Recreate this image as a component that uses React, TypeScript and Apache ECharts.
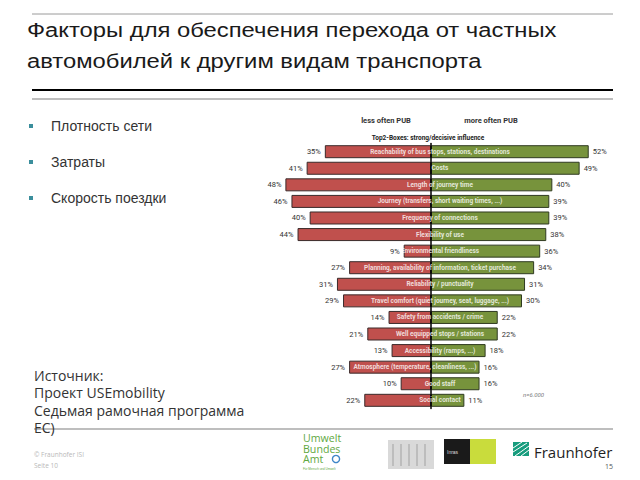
import React, { useEffect, useRef } from "react";
import * as echarts from "echarts";

const categories = [
  "Reachability of bus stops, stations, destinations",
  "Costs",
  "Length of journey time",
  "Journey (transfers, short waiting times, ...)",
  "Frequency of connections",
  "Flexibility of use",
  "Environmental friendliness",
  "Planning, availability of information, ticket purchase",
  "Reliability / punctuality",
  "Travel comfort (quiet journey, seat, luggage, ...)",
  "Safety from accidents / crime",
  "Well equipped stops / stations",
  "Accessibility (ramps, ...)",
  "Atmosphere (temperature, cleanliness, ...)",
  "Good staff",
  "Social contact",
];
const lessOftenPUB = [35, 41, 48, 46, 40, 44, 9, 27, 31, 29, 14, 21, 13, 27, 10, 22];
const moreOftenPUB = [52, 49, 40, 39, 39, 38, 36, 34, 31, 30, 22, 22, 18, 16, 16, 11];

const titleLines = [
  "Факторы для обеспечения перехода от частных",
  "автомобилей к другим видам транспорта",
];
const bullets = ["Плотность сети", "Затраты", "Скорость поездки"];
const sourceLines = ["Источник:", "Проект USEmobility", "Седьмая рамочная программа", "ЕС)"];
const umweltLines = ["Umwelt", "Bundes", "Amt"];

const SANS = "'Liberation Sans', Arial, sans-serif";
const OPEN = "'Open Sans', 'Noto Sans', sans-serif";
const SMALL = "Roboto, 'Liberation Sans', sans-serif";

// grid geometry (layout constants)
const GRID_LEFT = 249;
const GRID_WIDTH = 364;
const X_MIN = -60;
const X_MAX = 60;
const CAT_FONT = 6.5;
const CAT_SHIFT = 9;

function measure(text: string, font: string): number {
  const c = document.createElement("canvas").getContext("2d");
  if (!c) return text.length * 3;
  c.font = font;
  return c.measureText(text).width;
}

export default function App() {
  const ref = useRef<HTMLDivElement>(null);
  useEffect(() => {
    if (!ref.current) return;
    const chart = echarts.init(ref.current, undefined, { renderer: "svg" });

    const graphic: any[] = [];
    const hline = (y: number, x1: number, x2: number, color: string, w: number) =>
      graphic.push({ type: "line", shape: { x1, y1: y, x2, y2: y }, style: { stroke: color, lineWidth: w }, silent: true });
    const txt = (x: number, y: number, text: string, o: any, extra: any = {}) =>
      graphic.push({ type: "text", x, y, silent: true, ...extra, style: { text, verticalAlign: "middle", align: "left", ...o } });

    hline(14, 32, 613, "#9a9a9a", 1);
    hline(90, 32, 613, "#000", 2.2);
    hline(99, 32, 613, "#a8a8a8", 1.5);
    hline(429, 34, 613, "#a8a8a8", 1.5);

    titleLines.forEach((t, i) =>
      txt(27, 30 + i * 31, t, { fontSize: 20, fontFamily: SANS, fill: "#1a1a1a" }, { scaleX: 1.19 })
    );
    bullets.forEach((t, i) => {
      graphic.push({ type: "rect", silent: true, shape: { x: 29, y: 124 + i * 36, width: 4, height: 4 }, style: { fill: "#3b8e9c" } });
      txt(51, 126 + i * 36, t, { fontSize: 14, fontFamily: SANS, fill: "#333" });
    });
    sourceLines.forEach((t, i) =>
      txt(34, 375 + i * 17.5, t, { fontSize: 14, fontFamily: OPEN, fill: "#333" })
    );
    txt(34, 454, "© Fraunhofer ISI", { fontSize: 6.5, fontFamily: OPEN, fill: "#b8b8b8" });
    txt(34, 465, "Seite 10", { fontSize: 6.5, fontFamily: OPEN, fill: "#b8b8b8" });

    // chart headers
    txt(386, 120, "less often PUB", { fontSize: 7.5, fontWeight: "bold", fontFamily: SMALL, fill: "#333", align: "center" });
    txt(491, 120, "more often PUB", { fontSize: 7.5, fontWeight: "bold", fontFamily: SMALL, fill: "#333", align: "center" });
    txt(428, 138, "Top2-Boxes: strong/decisive influence", { fontSize: 6.5, fontWeight: "bold", fontFamily: SMALL, fill: "#222", align: "center" });
    txt(523, 394, "n=6.000", { fontSize: 6, fontStyle: "italic", fontFamily: SMALL, fill: "#777" });

    // Umwelt Bundes Amt logo
    umweltLines.forEach((t, i) =>
      txt(303, 438 + i * 10.7, t, { fontSize: 9.5, fontFamily: OPEN, fill: "#5fa83f" }, { scaleX: 1.12, scaleY: 1.08 })
    );
    graphic.push({ type: "circle", silent: true, shape: { cx: 336, cy: 459, r: 3.6 }, style: { fill: "#fff", stroke: "#3f86c8", lineWidth: 1.4 } });
    txt(303, 469, "Für Mensch und Umwelt", { fontSize: 3, fontFamily: SANS, fill: "#5fa83f" });

    // gray image block
    graphic.push({ type: "rect", silent: true, shape: { x: 388, y: 440, width: 46, height: 29 }, style: { fill: "#d9d9d9" } });
    [393, 401, 409, 417, 425].forEach((x) =>
      graphic.push({ type: "line", silent: true, shape: { x1: x, y1: 444, x2: x, y2: 466 }, style: { stroke: "#bdbdbd", lineWidth: 2 } })
    );
    // inras logo
    graphic.push({ type: "rect", silent: true, shape: { x: 444, y: 439, width: 26, height: 25 }, style: { fill: "#1a1a1a" } });
    graphic.push({ type: "rect", silent: true, shape: { x: 470, y: 439, width: 26, height: 25 }, style: { fill: "#c9dc3c" } });
    txt(447, 451.5, "Inras", { fontSize: 5, fontFamily: SANS, fill: "#ddd" });

    // Fraunhofer logo
    graphic.push({ type: "rect", silent: true, shape: { x: 513, y: 442, width: 16, height: 14 }, style: { fill: "#179c7d" } });
    [[513, 448, 522, 442], [513, 452, 527, 443], [515, 456, 529, 446], [521, 456, 529, 450]].forEach(([x1, y1, x2, y2]) =>
      graphic.push({ type: "line", silent: true, shape: { x1, y1, x2, y2 }, style: { stroke: "#fff", lineWidth: 1 } })
    );
    txt(534, 451.5, "Fraunhofer", { fontSize: 15, fontFamily: OPEN, fill: "#1f1f1f" });
    txt(605, 466, "15", { fontSize: 7, fontFamily: OPEN, fill: "#555" });

    const pctLabel = {
      show: true,
      fontSize: 7.5,
      fontFamily: SMALL,
      color: "#333",
      distance: 4,
      formatter: (p: any) => Math.abs(p.value) + "%",
    };

    // category label placement: centred a little right of the axis, but kept inside the right bar
    const pxPerUnit = GRID_WIDTH / (X_MAX - X_MIN);
    const catFont = `bold ${CAT_FONT}px Roboto`;
    const catData = categories.map((c, i) => {
      const w = measure(c, catFont);
      const barEnd = moreOftenPUB[i] * pxPerUnit - 3;
      let dx = CAT_SHIFT;
      if (dx + w / 2 > barEnd) dx = barEnd - w / 2;
      return { value: [0, c], label: { offset: [dx, 0] } };
    });

    chart.setOption({
      animation: false,
      grid: { left: GRID_LEFT, width: GRID_WIDTH, top: 143.4, height: 265.2, containLabel: false },
      xAxis: { type: "value", min: X_MIN, max: X_MAX, show: false },
      yAxis: {
        type: "category",
        inverse: true,
        data: categories,
        axisLabel: { show: false },
        axisTick: { show: false },
        axisLine: { show: true, onZero: true, lineStyle: { color: "#000", width: 1.5 } },
        z: 5,
      },
      series: [
        {
          name: "less often PUB",
          type: "bar",
          data: lessOftenPUB.map((v) => -v),
          barWidth: 13,
          barGap: "-100%",
          itemStyle: { color: "#c0504d", borderColor: "#3a2a2a", borderWidth: 1 },
          label: { ...pctLabel, position: "left" },
        },
        {
          name: "more often PUB",
          type: "bar",
          data: moreOftenPUB,
          barWidth: 13,
          barGap: "-100%",
          itemStyle: { color: "#77933c", borderColor: "#2f3a20", borderWidth: 1 },
          label: { ...pctLabel, position: "right" },
        },
        {
          name: "factor",
          type: "scatter",
          symbolSize: 0,
          z: 10,
          data: catData,
          label: {
            show: true,
            position: "inside",
            fontSize: CAT_FONT,
            fontWeight: "bold",
            fontFamily: SMALL,
            color: "#fff",
            formatter: (p: any) => p.value[1],
          },
        },
      ],
      graphic,
    });
    return () => chart.dispose();
  }, []);
  return (
    <div
      ref={ref}
      style={{ position: "absolute", left: 0, top: 0, width: 640, height: 480, background: "#fff" }}
    />
  );
}
